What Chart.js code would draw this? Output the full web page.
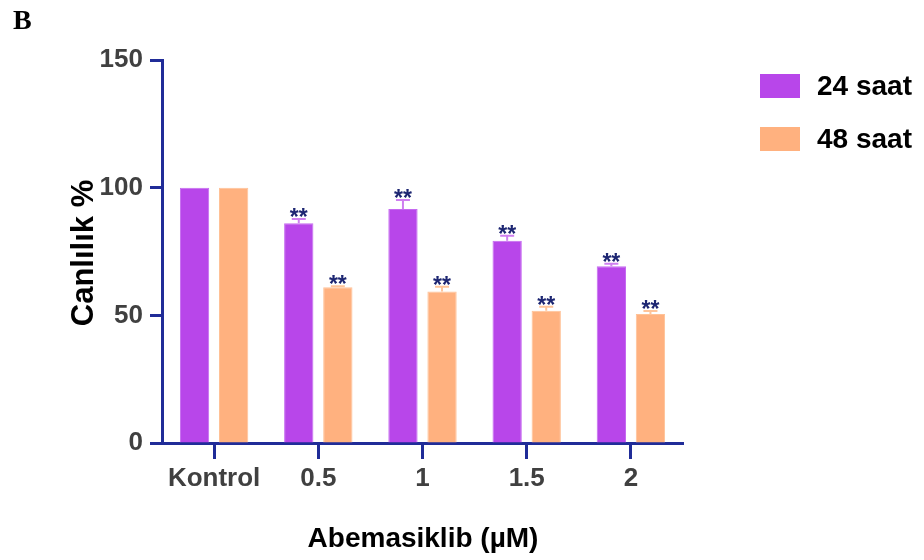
<!DOCTYPE html>
<html>
<head>
<meta charset="utf-8">
<script src="https://cdn.jsdelivr.net/npm/chart.js@4.4.1/dist/chart.umd.min.js"></script>
<style>
  html, body { margin: 0; padding: 0; background: #ffffff; }
  #wrap { width: 924px; height: 560px; position: relative; }
</style>
</head>
<body>
<div id="wrap"><canvas id="c" width="924" height="560"></canvas></div>
<script>
// Cell viability (%) after Abemaciclib treatment
const categories = ['Kontrol', '0.5', '1', '1.5', '2'];
const seriesNames = ['24 saat', '48 saat'];
const viability24 = [100, 86.1, 91.6, 79.2, 69.2];
const viability48 = [100, 61.0, 59.3, 51.8, 50.5];
const errorUp24 = [0, 1.6, 3.6, 2.0, 1.0];
const errorUp48 = [0, 0.4, 1.9, 1.6, 1.2];
const signif24 = ['', '**', '**', '**', '**'];
const signif48 = ['', '**', '**', '**', '**'];
const yTicks = [0, 50, 100, 150];

const AXIS = '#202c98';
const PURPLE = '#b846ea';
const ORANGE = '#ffb17f';
const FONT = "'Liberation Sans', Arial, sans-serif";

const errors = [errorUp24, errorUp48];
const signif = [signif24, signif48];
const errColors = ['#cf7ff0', '#ffc499'];

// Upper error bars, significance marks, legend and titles
const annotate = {
  id: 'annotate',
  afterDatasetsDraw(chart) {
    const ctx = chart.ctx;
    const y = chart.scales.y;
    chart.data.datasets.forEach((ds, di) => {
      const meta = chart.getDatasetMeta(di);
      meta.data.forEach((bar, i) => {
        const top = y.getPixelForValue(ds.data[i] + errors[di][i]);
        const base = y.getPixelForValue(ds.data[i]);
        if (errors[di][i] > 0) {
          ctx.save();
          ctx.strokeStyle = errColors[di];
          ctx.lineWidth = 2;
          ctx.beginPath();
          ctx.moveTo(bar.x, base);
          ctx.lineTo(bar.x, top);
          ctx.moveTo(bar.x - 7, top);
          ctx.lineTo(bar.x + 7, top);
          ctx.stroke();
          ctx.restore();
        }
        if (signif[di][i]) {
          ctx.save();
          ctx.fillStyle = '#1d2672';
          ctx.font = 'bold 23px ' + FONT;
          ctx.textAlign = 'center';
          ctx.textBaseline = 'alphabetic';
          ctx.fillText(signif[di][i], bar.x, top + 6);
          ctx.restore();
        }
      });
    });
  },
  afterDraw(chart) {
    const ctx = chart.ctx;
    ctx.save();
    // panel letter
    ctx.fillStyle = '#000';
    ctx.font = "bold 28px 'Liberation Serif', 'Times New Roman', serif";
    ctx.textAlign = 'left';
    ctx.textBaseline = 'alphabetic';
    ctx.fillText('B', 13, 29);

    // axis titles
    ctx.font = 'bold 28px ' + FONT;
    ctx.textAlign = 'center';
    ctx.fillText('Abemasiklib (\u00b5M)', 423, 547);

    ctx.save();
    ctx.translate(93, 253);
    ctx.rotate(-Math.PI / 2);
    ctx.font = 'bold 31px ' + FONT;
    ctx.fillText('Canl\u0131l\u0131k %', 0, 0);
    ctx.restore();

    // legend
    const colors = [PURPLE, ORANGE];
    const rows = [74, 127];
    ctx.font = 'bold 28px ' + FONT;
    ctx.textAlign = 'left';
    ctx.textBaseline = 'middle';
    seriesNames.forEach((name, k) => {
      ctx.fillStyle = colors[k];
      ctx.fillRect(760, rows[k], 40, 24);
      ctx.fillStyle = '#000';
      ctx.fillText(name, 817, rows[k] + 13);
    });
    ctx.restore();
  }
};

new Chart(document.getElementById('c'), {
  type: 'bar',
  data: {
    labels: categories,
    datasets: [
      { label: seriesNames[0], data: viability24, backgroundColor: PURPLE,
        borderColor: '#c56af0', borderWidth: 1 },
      { label: seriesNames[1], data: viability48, backgroundColor: ORANGE,
        borderColor: '#ffc297', borderWidth: 1 }
    ]
  },
  options: {
    responsive: false,
    animation: false,
    events: [],
    datasets: { bar: { categoryPercentage: 0.75, barPercentage: 0.75 } },
    layout: { padding: { top: 60, right: 241, left: 0, bottom: 0 } },
    plugins: { legend: { display: false }, tooltip: { enabled: false } },
    scales: {
      x: {
        offset: true,
        grid: { display: true, offset: false, drawOnChartArea: false,
                tickLength: 16, tickWidth: 3, tickColor: AXIS },
        border: { display: true, color: AXIS, width: 3 },
        ticks: { color: '#404040', font: { family: FONT, size: 26, weight: 'bold' },
                 padding: 4, maxRotation: 0 },
        afterFit(scale) { scale.height = 117; }
      },
      y: {
        min: 0, max: 150,
        afterBuildTicks(scale) { scale.ticks = yTicks.map(v => ({ value: v })); },
        grid: { display: true, drawOnChartArea: false,
                tickLength: 12, tickWidth: 3, tickColor: AXIS },
        border: { display: true, color: AXIS, width: 3 },
        ticks: { color: '#404040', font: { family: FONT, size: 26, weight: 'bold' },
                 padding: 7 },
        afterFit(scale) { scale.width = 162; }
      }
    }
  },
  plugins: [annotate]
});
</script>
</body>
</html>
